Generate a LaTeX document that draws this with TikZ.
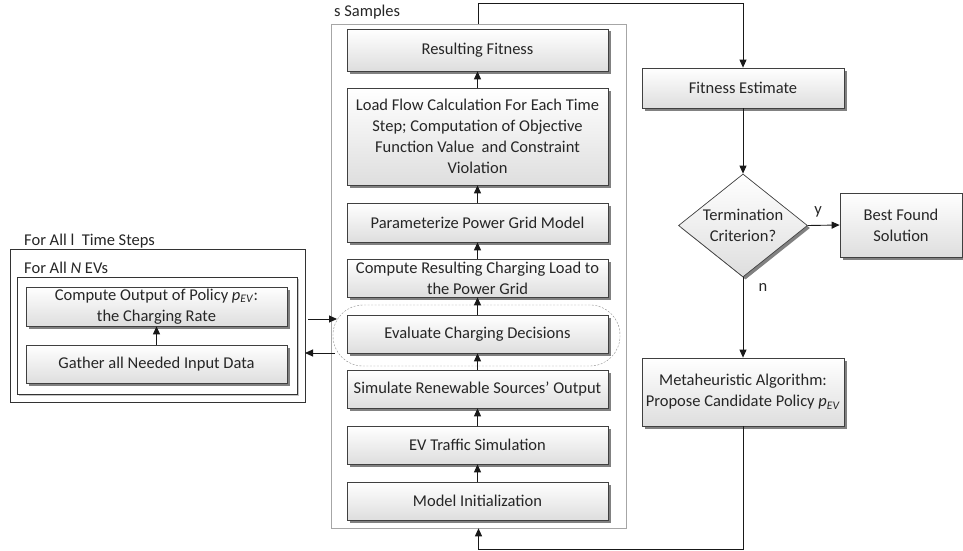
\documentclass[tikz,border=0pt]{standalone}
\usepackage{fontspec}
\setmainfont{Carlito}
\usetikzlibrary{shapes.geometric,shadows,arrows.meta}
\begin{document}
\begin{tikzpicture}[x=1pt,y=-1pt,
  font=\fontsize{16.5}{21}\selectfont,
  procbox/.style={draw=black!75,line width=0.7pt,top color=white,bottom color=black!13,
    drop shadow={shadow xshift=2.5pt,shadow yshift=-2.5pt,fill=black!55,opacity=0.9},
    rectangle,inner sep=0pt,align=center,text=black!85},
  decbox/.style={draw=black!75,line width=0.7pt,top color=white,bottom color=black!13,
    drop shadow={shadow xshift=2.5pt,shadow yshift=-2.5pt,fill=black!55,opacity=0.9},
    diamond,inner sep=0pt,align=center,text=black!85},
  frame/.style={draw=black!80,line width=0.6pt},
  lbl/.style={anchor=west,inner sep=0pt,text=black!85},
  arr/.style={draw=black!90,line width=0.9pt,-{Triangle[length=8pt,width=7pt]}},
]
\useasboundingbox (0,0) rectangle (963,551);

% ---- sampling loop (middle column) ----
\node[draw=black!35,line width=0.6pt,minimum width=295,minimum height=504,inner sep=0] (samp) at (478.5,276) {};
\node[lbl] (samplbl) at (334,12) {s Samples};

\node[draw=black!45,dashed,dash pattern=on 2pt off 1.5pt,rounded corners=30pt,
      minimum width=287,minimum height=61,inner sep=0] (grp) at (476.5,335.5) {};

\node[procbox,minimum width=261,minimum height=42] (rf) at (477.5,50) {Resulting Fitness};
\node[procbox,minimum width=261,minimum height=97] (lf) at (477.5,136.5)
  {Load Flow Calculation For Each Time\\Step; Computation of Objective\\Function Value~ and Constraint\\Violation};
\node[procbox,minimum width=261,minimum height=39] (pg) at (477.5,222.5) {Parameterize Power Grid Model};
\node[procbox,minimum width=261,minimum height=38] (cl) at (477.5,278) {Compute Resulting Charging Load to\\the Power Grid};
\node[procbox,minimum width=261,minimum height=38] (ev) at (477.5,334) {Evaluate Charging Decisions};
\node[procbox,minimum width=261,minimum height=38] (sr) at (477.5,389) {Simulate Renewable Sources' Output};
\node[procbox,minimum width=261,minimum height=38] (tr) at (477.5,445) {EV Traffic Simulation};
\node[procbox,minimum width=261,minimum height=38] (mi) at (477.5,501) {Model Initialization};

\draw[arr] (mi) -- (tr);
\draw[arr] (tr) -- (sr);
\draw[arr] (sr) -- (ev);
\draw[arr] (ev) -- (cl);
\draw[arr] (cl) -- (pg);
\draw[arr] (pg) -- (lf);
\draw[arr] (lf) -- (rf);

% ---- per-time-step / per-EV loop (left) ----
\node[frame,minimum width=295,minimum height=153,inner sep=0] (tsbox) at (157.5,325.5) {};
\node[frame,minimum width=280,minimum height=117,inner sep=0,fill=white,
      drop shadow={shadow xshift=1.5pt,shadow yshift=-1.5pt,fill=black!45}] (evbox) at (157,335.5) {};
\node[lbl] (tslbl) at (24,241) {For All l~ Time Steps};
\node[lbl] (evlbl) at (24,268) {For All \textit{N} EVs};

\node[procbox,minimum width=261,minimum height=39] (co) at (156.5,306.5)
  {Compute Output of Policy \textit{p}\textsubscript{\textit{EV}}:\\the Charging Rate};
\node[procbox,minimum width=261,minimum height=38] (ga) at (156.5,364) {Gather all Needed Input Data};
\draw[arr] (ga) -- (co);

\coordinate (outA) at (308,319);
\coordinate (inA) at (337,319);
\coordinate (outB) at (335,353);
\coordinate (inB) at (305,353);
\draw[arr] (outA) -- (inA);
\draw[arr] (outB) -- (inB);

% ---- optimisation loop (right) ----
\node[procbox,minimum width=202,minimum height=40] (fe) at (743,88) {Fitness Estimate};
\node[decbox,minimum width=129,minimum height=103,aspect=1.25] (dia) at (743,225.5) {Termination\\Criterion?};
\node[procbox,minimum width=122,minimum height=64] (bfs) at (901,225) {Best Found\\Solution};
\node[procbox,minimum width=202,minimum height=68] (ma) at (743,392)
  {Metaheuristic Algorithm:\\Propose Candidate Policy \textit{p}\textsubscript{\textit{EV}}};

\coordinate (topL) at (478.5,3);
\coordinate (botR) at (743,549);
\draw[arr] (samp.north) -- (topL) -| (fe.north);
\draw[arr] (fe) -- (dia);
\draw[arr] (dia.east) -- (bfs.west);
\draw[arr] (dia.south) -- (ma.north);
\draw[arr] (ma.south) -- (botR) -| (samp.south);

\node[inner sep=0,text=black!85] (ylbl) at (818,212) {y};
\node[inner sep=0,text=black!85] (nlbl) at (763,287) {n};
\end{tikzpicture}
\end{document}
